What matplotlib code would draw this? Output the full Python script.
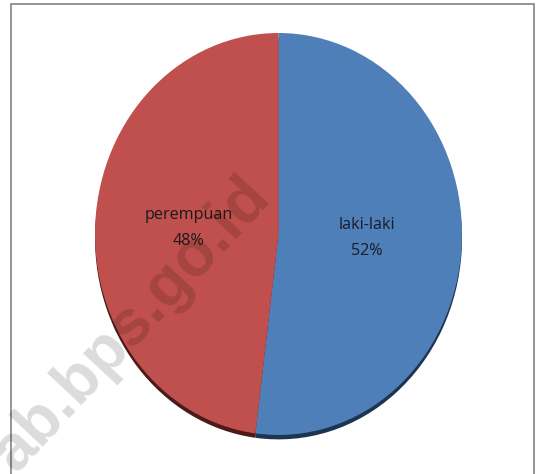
import matplotlib.pyplot as plt
from matplotlib.patches import Rectangle

labels = ['laki-laki', 'perempuan']
shares = [52, 48]
colors = ['#4f7fb8', '#c0504d']
shadow_colors = ['#1d3452', '#4c1b19']

fig = plt.figure(figsize=(5.45, 4.74), dpi=100)
fig.patches.append(Rectangle((11 / 545, -0.1), 523 / 545, 1.1 - 4 / 474,
                             transform=fig.transFigure, fill=False,
                             edgecolor='#8c8c8c', linewidth=1.3))

ax = fig.add_axes([95 / 545, 1 - 441 / 474, 367 / 545, 408 / 474])

# dark rim at the bottom, a little below the pie
ax.pie(shares, colors=shadow_colors, startangle=90, counterclock=False,
       center=(0, -0.022), frame=False)
ax.pie(shares, colors=colors, startangle=90, counterclock=False, frame=False)
ax.set_aspect('auto')
ax.set_xlim(-1, 1)
ax.set_ylim(-1.03, 1)

ax.text(0.48, -0.02, f'{labels[0]}\n{shares[0]}%', ha='center', va='center',
        fontsize=11.6, color='#1a1a28', linespacing=1.78, family='Open Sans')
ax.text(-0.49, 0.03, f'{labels[1]}\n{shares[1]}%', ha='center', va='center',
        fontsize=11.6, color='#1a1a1a', linespacing=1.78, family='Open Sans')

fig.text(-0.035, -0.02, 'ab.bps.go.id', rotation=47, fontsize=46,
         fontweight='bold', color='black', alpha=0.14,
         ha='left', va='bottom', family='Liberation Sans')

fig.savefig('out.png', dpi=100)
